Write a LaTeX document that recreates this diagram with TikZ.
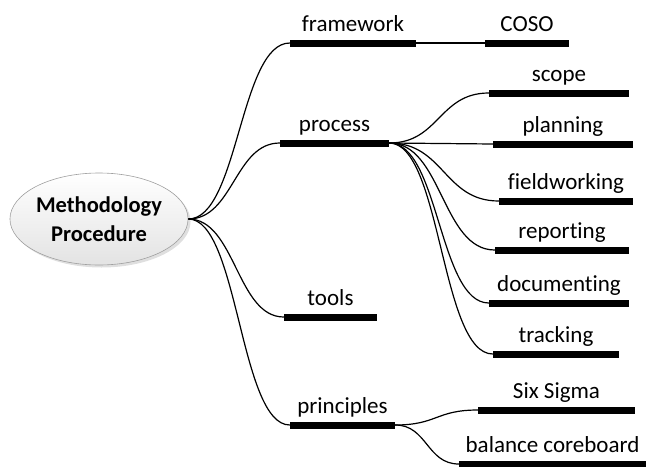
\documentclass[tikz,border=0pt]{standalone}
\usepackage{fontspec}
\setmainfont{Carlito}[Ligatures={NoCommon}]
\usetikzlibrary{shapes.geometric,shadows}

\tikzset{
  rootnode/.style={ellipse, draw=gray!75, line width=0.6pt,
    top color=white, bottom color=gray!22, shading angle=0,
    minimum width=178pt, minimum height=92pt, inner sep=0pt,
    align=center, font=\fontsize{22.5}{29}\selectfont\bfseries,
    drop shadow={shadow xshift=2.5pt, shadow yshift=-2.5pt, opacity=0.25, fill=gray}},
  bar/.style={rectangle, fill=black, inner sep=0pt, minimum height=7pt},
  lbl/.style={anchor=base, inner sep=0pt, font=\fontsize{23}{28}\selectfont},
  conn/.style={draw=black, line width=1.2pt},
}

\begin{document}
\begin{tikzpicture}[x=1pt, y=-1pt]
\useasboundingbox (0,0) rectangle (650,466);

% central topic
\node[rootnode] (root) at (99,219) {Methodology\\Procedure};

% first level branches
\node[bar, minimum width=126pt] (framework) at (353,43) {};
\node[bar, minimum width=109pt] (process) at (334.5,143) {};
\node[bar, minimum width=93pt] (tools) at (330.5,317) {};
\node[bar, minimum width=105pt] (principles) at (342.5,425) {};

% second level branches
\node[bar, minimum width=84pt] (coso) at (527,43) {};
\node[bar, minimum width=140pt] (scope) at (559,93) {};
\node[bar, minimum width=140pt] (planning) at (563,144) {};
\node[bar, minimum width=134pt] (fieldworking) at (566,201) {};
\node[bar, minimum width=134pt] (reporting) at (562,250) {};
\node[bar, minimum width=140pt] (documenting) at (559,303) {};
\node[bar, minimum width=126pt] (tracking) at (556,354) {};
\node[bar, minimum width=157pt] (sixsigma) at (556.5,410) {};
\node[bar, minimum width=187pt] (balance) at (552.5,464) {};

% labels sitting on the bars
\node[lbl] (framework-t) at ([yshift=12pt]framework.center) {framework};
\node[lbl] (process-t) at ([yshift=12pt]process.center) {process};
\node[lbl] (tools-t) at ([yshift=12pt]tools.center) {tools};
\node[lbl] (principles-t) at ([yshift=12pt]principles.center) {principles};
\node[lbl] (coso-t) at ([yshift=12pt]coso.center) {COSO};
\node[lbl] (scope-t) at ([yshift=12pt]scope.center) {scope};
\node[lbl] (planning-t) at ([yshift=12pt]planning.center) {planning};
\node[lbl] (fieldworking-t) at ([yshift=12pt]fieldworking.center) {fieldworking};
\node[lbl] (reporting-t) at ([yshift=12pt]reporting.center) {reporting};
\node[lbl] (documenting-t) at ([yshift=12pt]documenting.center) {documenting};
\node[lbl] (tracking-t) at ([yshift=12pt]tracking.center) {tracking};
\node[lbl] (sixsigma-t) at ([yshift=12pt]sixsigma.center) {Six Sigma};
\node[lbl] (balance-t) at ([yshift=12pt]balance.center) {balance coreboard};

% connectors from the central topic
\draw[conn] (root.east) .. controls +(50,0) and +(-50,0) .. (framework.west);
\draw[conn] (root.east) .. controls +(45,0) and +(-45,0) .. (process.west);
\draw[conn] (root.east) .. controls +(47,0) and +(-47,0) .. (tools.west);
\draw[conn] (root.east) .. controls +(50,0) and +(-50,0) .. (principles.west);

% framework
\draw[conn] (framework.east) .. controls +(35,0) and +(-35,0) .. (coso.west);

% process
\draw[conn] (process.east) .. controls +(50,0) and +(-50,0) .. (scope.west);
\draw[conn] (process.east) .. controls +(52,0) and +(-52,0) .. (planning.west);
\draw[conn] (process.east) .. controls +(55,0) and +(-55,0) .. (fieldworking.west);
\draw[conn] (process.east) .. controls +(53,0) and +(-53,0) .. (reporting.west);
\draw[conn] (process.east) .. controls +(50,0) and +(-50,0) .. (documenting.west);
\draw[conn] (process.east) .. controls +(52,0) and +(-52,0) .. (tracking.west);

% principles
\draw[conn] (principles.east) .. controls +(42,0) and +(-42,0) .. (sixsigma.west);
\draw[conn] (principles.east) .. controls +(32,0) and +(-32,0) .. (balance.west);
\end{tikzpicture}
\end{document}
